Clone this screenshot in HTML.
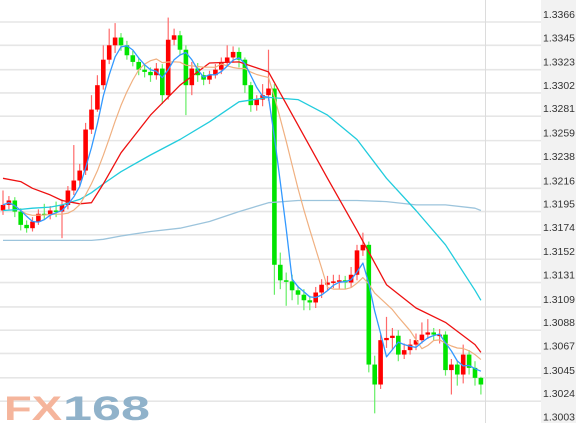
<!DOCTYPE html>
<html><head><meta charset="utf-8"><style>
html,body{margin:0;padding:0;background:#fff;}
svg{display:block;font-family:"Liberation Sans",sans-serif;}
</style></head><body>
<svg id="chart" width="576" height="423" viewBox="0 0 576 423">
<rect x="541" y="0" width="35" height="423" fill="#f2f2f2"/>
<g id="grid"></g>
<line x1="485.5" y1="0" x2="485.5" y2="423" stroke="#dcdcdc" stroke-width="1"/>
<g id="labels"></g>
<g id="candles"></g>
<g id="lines"></g>
<g>
<text x="4" y="420" font-size="34" font-weight="bold" fill="#f5b59c" textLength="58" lengthAdjust="spacingAndGlyphs">FX</text>
<text x="63" y="420" font-size="34" font-weight="bold" fill="#90b2ca" textLength="87" lengthAdjust="spacingAndGlyphs">168</text>
</g>
</svg>
<script>
const tickLabels=["1.3366","1.3345","1.3323","1.3302","1.3281","1.3259","1.3238","1.3216","1.3195","1.3174","1.3152","1.3131","1.3109","1.3088","1.3067","1.3045","1.3024","1.3003"];
const closes=[1.3201,1.3205,1.3195,1.3183,1.3180,1.3186,1.3193,1.3192,1.3196,1.3195,1.3201,1.3214,1.3223,1.3232,1.3269,1.3287,1.3309,1.3332,1.3345,1.3352,1.3345,1.3336,1.3330,1.3323,1.3321,1.3318,1.3324,1.3300,1.3350,1.3354,1.3341,1.3309,1.3324,1.3318,1.3314,1.3318,1.3323,1.3330,1.3334,1.3339,1.3332,1.3309,1.3291,1.3296,1.3300,1.3306,1.3147,1.3133,1.3132,1.3124,1.3120,1.3115,1.3113,1.3122,1.3129,1.3131,1.3132,1.3133,1.3131,1.3138,1.3160,1.3165,1.3057,1.3039,1.3079,1.3081,1.3083,1.3066,1.3070,1.3075,1.3079,1.3084,1.3086,1.3084,1.3084,1.3052,1.3057,1.3048,1.3066,1.3054,1.3045,1.3039];
const firstOpen=1.3196;
const highs=[1.3214,1.3209,1.3208,1.3198,1.3187,1.3190,1.3197,1.3202,1.3200,1.3204,1.3206,1.3218,1.3255,1.3238,1.3275,1.3300,1.3318,1.3345,1.3360,1.3365,1.3356,1.3349,1.3340,1.3334,1.3328,1.3325,1.3329,1.3328,1.3370,1.3360,1.3358,1.3345,1.3330,1.3329,1.3321,1.3322,1.3328,1.3334,1.3345,1.3344,1.3343,1.3334,1.3312,1.3300,1.3310,1.3341,1.3310,1.3158,1.3140,1.3138,1.3128,1.3125,1.3119,1.3127,1.3134,1.3137,1.3138,1.3138,1.3137,1.3145,1.3165,1.3176,1.3168,1.3065,1.3084,1.3100,1.3090,1.3088,1.3076,1.3080,1.3085,1.3095,1.3098,1.3090,1.3089,1.3087,1.3062,1.3060,1.3075,1.3070,1.3060,1.3046];
const lows=[1.3192,1.3197,1.3190,1.3178,1.3176,1.3177,1.3183,1.3188,1.3188,1.3190,1.3171,1.3197,1.3210,1.3218,1.3228,1.3265,1.3285,1.3305,1.3328,1.3338,1.3340,1.3332,1.3326,1.3318,1.3316,1.3312,1.3314,1.3292,1.3296,1.3345,1.3336,1.3282,1.3300,1.3312,1.3309,1.3310,1.3315,1.3319,1.3326,1.3330,1.3325,1.3302,1.3285,1.3286,1.3290,1.3295,1.3120,1.3125,1.3110,1.3115,1.3111,1.3106,1.3106,1.3108,1.3117,1.3124,1.3126,1.3125,1.3125,1.3127,1.3133,1.3155,1.3050,1.3013,1.3035,1.3072,1.3070,1.3060,1.3062,1.3066,1.3070,1.3076,1.3080,1.3079,1.3076,1.3047,1.3030,1.3038,1.3040,1.3048,1.3038,1.3030];
const maIdx=[0,3,5,8,10,13,15,17,20,25,30,35,40,45,50,55,60,65,70,75,80,81];
const maRed=[1.3225,1.3222,1.3216,1.3210,1.3205,1.3202,1.3203,1.3220,1.3248,1.3282,1.3309,1.3329,1.3330,1.3321,1.3273,1.3225,1.3178,1.3129,1.3108,1.3095,1.3075,1.3068];
const maCyan=[1.3196,1.3197,1.3198,1.3199,1.3201,1.3206,1.3212,1.3220,1.3231,1.3246,1.3260,1.3276,1.3294,1.3298,1.3296,1.3282,1.3260,1.3225,1.3196,1.3165,1.3124,1.3115];
const maLight=[1.3169,1.3169,1.3169,1.3169,1.3169,1.3169,1.3169,1.3170,1.3173,1.3177,1.3180,1.3186,1.3195,1.3203,1.3205,1.3205,1.3205,1.3204,1.3201,1.3201,1.3198,1.3196];

const NS="http://www.w3.org/2000/svg";
const vTop=1.3366, vStep=0.00213333, yTop=22, pxStep=23.65;
function yScale(v){return yTop+(vTop-v)/vStep*pxStep;}
function xScale(i){return 3+i*5.9;}
function mk(tag,attrs,parent){const e=document.createElementNS(NS,tag);for(const k in attrs)e.setAttribute(k,attrs[k]);parent.appendChild(e);return e;}

const grid=document.getElementById('grid'), labels=document.getElementById('labels');
tickLabels.forEach((t,k)=>{
  const y=yScale(parseFloat(t));
  const g=mk('line',{x1:0,x2:541,y1:y,y2:y,stroke:'#e6e6e6','stroke-width':1.6},grid);
  
  
  const tx=mk('text',{x:543,y:y-4,'font-size':10.5,fill:'#333',textLength:32,lengthAdjust:'spacingAndGlyphs'},labels);
  tx.textContent=t;
  
  
});

const cg=document.getElementById('candles');
closes.forEach((c,i)=>{
  const o=i===0?firstOpen:closes[i-1];
  const up=c>=o;
  const col=up?'#ff0000':'#00e400';
  const wcol=up?'#ff6a6a':'#66ee66';
  const x=xScale(i);
  const w=mk('line',{x1:x,x2:x,y1:yScale(highs[i]),y2:yScale(lows[i]),stroke:wcol,'stroke-width':1.2},cg);
  
  
  const yt=yScale(Math.max(o,c)), yb=yScale(Math.min(o,c));
  const b=mk('rect',{x:x-2.3,y:yt,width:4.6,height:Math.max(1.5,yb-yt),fill:col},cg);
  
  
});

function movAvg(n){return closes.map((c,i)=>{let s=0,k=0;for(let j=Math.max(0,i-n+1);j<=i;j++){s+=closes[j];k++;}return s/k;});}
const lg=document.getElementById('lines');
function drawSeries(idx,vals,color,name,w){
  const d=vals.map((v,k)=>(k?'L':'M')+xScale(idx[k]).toFixed(1)+','+yScale(v).toFixed(1)).join(' ');
  const p=mk('path',{d:d,fill:'none',stroke:color,'stroke-width':w||1.2,'stroke-linejoin':'round'},lg);
  
  
}
const allIdx=closes.map((_,i)=>i);
drawSeries(maIdx,maLight,'#9cc4dc','ma-long-line',1.3);
drawSeries(maIdx,maCyan,'#22ccdd','ma-cyan-line',1.3);
drawSeries(maIdx,maRed,'#ee1111','ma-red-line',1.3);
drawSeries(allIdx,movAvg(10),'#f0b080','ma10-line',1.2);
drawSeries(allIdx,movAvg(4),'#3399ff','ma5-line',1.3);
</script>
</body></html>
